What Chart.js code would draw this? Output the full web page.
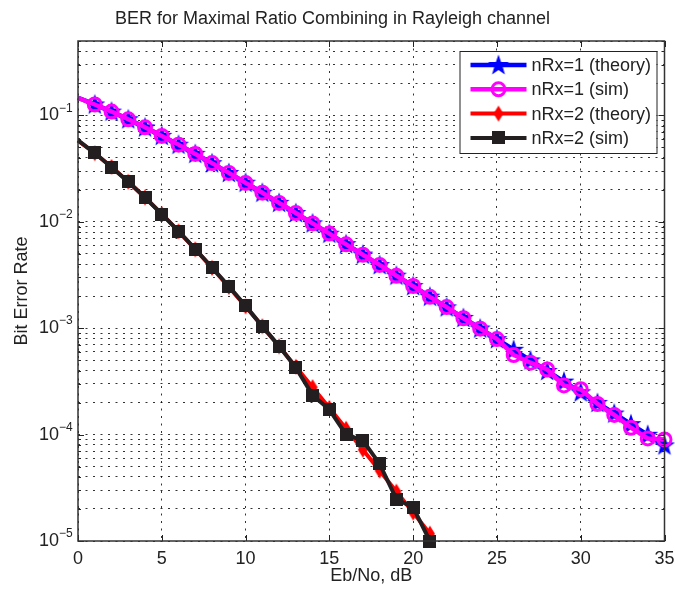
<!DOCTYPE html>
<html>
<head>
<meta charset="utf-8">
<title>BER for Maximal Ratio Combining in Rayleigh channel</title>
<script src="https://cdn.jsdelivr.net/npm/chart.js@4.4.1/dist/chart.umd.min.js"></script>
<style>
html, body { margin: 0; padding: 0; background: #fff; }
canvas { display: block; }
</style>
</head>
<body>
<canvas id="berChart" width="675" height="591"></canvas>
<script>
// Eb/No points, dB
const ebnoRx1 = [0, 1, 2, 3, 4, 5, 6, 7, 8, 9, 10, 11, 12, 13, 14, 15, 16, 17,
    18, 19, 20, 21, 22, 23, 24, 25, 26, 27, 28, 29, 30, 31, 32, 33, 34, 35];
const ebnoRx2 = [0, 1, 2, 3, 4, 5, 6, 7, 8, 9, 10, 11, 12, 13, 14, 15, 16, 17,
    18, 19, 20, 21];

// BER values
const berTheoryRx1 = [0.1464, 0.1267, 0.1085, 0.0919, 0.0771, 0.0642, 0.0530, 0.0435,
    0.0355, 0.0288, 0.0233, 0.01875, 0.01506, 0.01208, 0.00967, 0.00772, 0.00616,
    0.004915, 0.003916, 0.003118, 0.002487, 0.001978, 0.00157, 0.00125, 0.000993,
    0.000789, 0.000627, 0.000498, 0.000396, 0.000315, 0.00025, 0.0001986, 0.0001578,
    0.0001253, 0.0000996, 0.0000791];
const berSimRx1 = [0.1463, 0.1266, 0.1086, 0.0918, 0.0772, 0.0641, 0.0531, 0.0434,
    0.0356, 0.0288, 0.0232, 0.01877, 0.01503, 0.0121, 0.00965, 0.00775, 0.00614,
    0.0049, 0.00393, 0.00311, 0.00249, 0.00197, 0.00158, 0.00124, 0.00099,
    0.00079, 0.00056, 0.000474, 0.000409, 0.00029, 0.000267, 0.000194, 0.000153,
    0.000116, 0.000092, 0.00009];
const berTheoryRx2 = [0.0580, 0.0441, 0.03276, 0.02379, 0.01692, 0.01184, 0.00813,
    0.00551, 0.00369, 0.00244, 0.001603, 0.001042, 0.000674, 0.000434, 0.0002787,
    0.0001779, 0.0001134, 0.0000722, 0.0000459, 0.0000291, 0.00001852, 0.00001172];
const berSimRx2 = [0.0581, 0.0443, 0.0326, 0.0238, 0.0169, 0.0118, 0.00818, 0.00553,
    0.00372, 0.00248, 0.00162, 0.00104, 0.00068, 0.000425, 0.000235, 0.000172,
    0.0001, 0.000088, 0.000053, 0.0000248, 0.0000207, 0.00001];

const seriesNames = ['nRx=1 (theory)', 'nRx=1 (sim)', 'nRx=2 (theory)', 'nRx=2 (sim)'];

// axis ticks
const xTicks = [0, 5, 10, 15, 20, 25, 30, 35];
const yDecades = [-5, -4, -3, -2, -1];
const yMin = 1e-5;
const yMax = 0.5;

const FONT = '"Liberation Sans", Arial, sans-serif';
const TEXT = '#222';

let yTickValues = [];
yDecades.forEach(e => {
    for (let m = 1; m <= 9; m++) {
        const v = m * Math.pow(10, e);
        if (v <= yMax * 1.0001) yTickValues.push(v);
    }
});

function isDecade(v) {
    const l = Math.log10(v);
    return Math.abs(l - Math.round(l)) < 1e-9;
}

// marker images
function makeMarker(w, h, draw) {
    const c = document.createElement('canvas');
    c.width = w;
    c.height = h;
    draw(c.getContext('2d'), w, h);
    return c;
}

const starMarker = makeMarker(24, 24, (g, w, h) => {
    const cx = w / 2, cy = h / 2 + 0.5, ro = 11, ri = 4.4;
    g.beginPath();
    for (let i = 0; i < 10; i++) {
        const r = i % 2 ? ri : ro;
        const a = -Math.PI / 2 + i * Math.PI / 5;
        g.lineTo(cx + r * Math.cos(a), cy + r * Math.sin(a));
    }
    g.closePath();
    g.fillStyle = '#0000ff';
    g.fill();
});

const diamondMarker = makeMarker(12, 18, (g) => {
    g.beginPath();
    g.moveTo(6, 1);
    g.lineTo(11, 9);
    g.lineTo(6, 17);
    g.lineTo(1, 9);
    g.closePath();
    g.fillStyle = '#ff0000';
    g.fill();
});

const squareMarker = makeMarker(13, 13, (g) => {
    g.fillStyle = '#231f20';
    g.fillRect(0, 0, 13, 13);
});

function toPoints(xs, ys) {
    return xs.map((x, i) => ({ x: x, y: ys[i] }));
}

// no marker sits on the left edge in the original
function markerSize(r) {
    return c => (c.parsed && c.parsed.x === 0 ? 0 : r);
}

const datasets = [
    {
        label: seriesNames[0],
        data: toPoints(ebnoRx1, berTheoryRx1),
        borderColor: '#0000ff',
        backgroundColor: '#0000ff',
        borderWidth: 4.5,
        pointStyle: starMarker,
        pointRadius: markerSize(6),
        order: 4
    },
    {
        label: seriesNames[1],
        data: toPoints(ebnoRx1, berSimRx1),
        borderColor: '#ff00ff',
        backgroundColor: 'rgba(0,0,0,0)',
        borderWidth: 4.5,
        pointStyle: 'circle',
        pointRadius: markerSize(6.5),
        pointBorderWidth: 3,
        order: 3
    },
    {
        label: seriesNames[2],
        data: toPoints(ebnoRx2, berTheoryRx2),
        borderColor: '#ff0000',
        backgroundColor: '#ff0000',
        borderWidth: 4,
        pointStyle: diamondMarker,
        pointRadius: markerSize(6),
        order: 2
    },
    {
        label: seriesNames[3],
        data: toPoints(ebnoRx2, berSimRx2),
        borderColor: '#231f20',
        backgroundColor: '#231f20',
        borderWidth: 4,
        pointStyle: squareMarker,
        pointRadius: markerSize(6),
        order: 1
    }
];

// box, inward tick marks and the exponents of the y labels
const framePlugin = {
    id: 'frame',
    afterDraw(chart) {
        const { ctx, chartArea: a, scales: { x, y } } = chart;
        ctx.save();
        ctx.strokeStyle = '#222';
        ctx.lineWidth = 1;
        ctx.beginPath();
        xTicks.forEach(v => {
            const px = Math.round(x.getPixelForValue(v)) + 0.5;
            ctx.moveTo(px, a.bottom);
            ctx.lineTo(px, a.bottom - 6);
            ctx.moveTo(px, a.top);
            ctx.lineTo(px, a.top + 6);
        });
        y.ticks.forEach(t => {
            const py = Math.round(y.getPixelForValue(t.value)) + 0.5;
            const len = isDecade(t.value) ? 6 : 3;
            ctx.moveTo(a.left, py);
            ctx.lineTo(a.left + len, py);
            ctx.moveTo(a.right, py);
            ctx.lineTo(a.right - len, py);
        });
        ctx.stroke();

        ctx.lineWidth = 1.5;
        ctx.strokeStyle = '#333';
        ctx.strokeRect(a.left, a.top, a.right - a.left, a.bottom - a.top);

        ctx.fillStyle = TEXT;
        ctx.font = '12px ' + FONT;
        ctx.textAlign = 'left';
        ctx.textBaseline = 'middle';
        y.ticks.forEach(t => {
            if (!isDecade(t.value)) return;
            const py = y.getPixelForValue(t.value);
            ctx.fillText('\u2212' + Math.abs(Math.round(Math.log10(t.value))), a.left - 19, py - 7);
        });
        ctx.restore();
    }
};

function drawMarker(ctx, i, px, py) {
    const ds = datasets[i];
    if (ds.pointStyle === 'circle') {
        ctx.beginPath();
        ctx.arc(px, py, 6.5, 0, Math.PI * 2);
        ctx.lineWidth = ds.pointBorderWidth;
        ctx.strokeStyle = ds.borderColor;
        ctx.stroke();
    } else {
        const img = ds.pointStyle;
        ctx.drawImage(img, px - img.width / 2, py - img.height / 2);
    }
}

// legend box inside the axes, top right
const boxLegendPlugin = {
    id: 'boxLegend',
    afterDraw(chart) {
        const { ctx, chartArea: a } = chart;
        const w = 197, h = 102;
        const bx = a.right - 8 - w, by = a.top + 10;
        ctx.save();
        ctx.fillStyle = '#fff';
        ctx.fillRect(bx, by, w, h);
        ctx.lineWidth = 1;
        ctx.strokeStyle = '#222';
        ctx.strokeRect(bx + 0.5, by + 0.5, w, h);

        ctx.font = '18px ' + FONT;
        ctx.textBaseline = 'middle';
        ctx.textAlign = 'left';
        datasets.forEach((ds, i) => {
            const ry = by + 14 + i * 24.3;
            ctx.beginPath();
            ctx.moveTo(bx + 11, ry);
            ctx.lineTo(bx + 67, ry);
            ctx.lineWidth = ds.borderWidth;
            ctx.strokeStyle = ds.borderColor;
            ctx.stroke();
            drawMarker(ctx, i, bx + 39, ry);
            ctx.fillStyle = TEXT;
            ctx.fillText(ds.label, bx + 72, ry + 1);
        });
        ctx.restore();
    }
};

const berChart = new Chart(document.getElementById('berChart'), {
    type: 'line',
    data: { datasets: datasets },
    options: {
        responsive: false,
        animation: false,
        events: [],
        clip: false,
        layout: { padding: { top: 0, right: 10, bottom: 0, left: 0 } },
        elements: { line: { tension: 0 } },
        plugins: {
            legend: { display: false },
            tooltip: { enabled: false },
            title: {
                display: true,
                text: 'BER for Maximal Ratio Combining in Rayleigh channel',
                color: TEXT,
                font: { family: FONT, size: 18, weight: 'normal', lineHeight: 1.2 },
                padding: { top: 8.2, bottom: 11.2 }
            }
        },
        scales: {
            x: {
                type: 'linear',
                min: 0,
                max: 35,
                afterFit(scale) {
                    scale.height = 50;
                    scale.paddingLeft = 0;
                    scale.paddingRight = 0;
                },
                afterBuildTicks(scale) {
                    scale.ticks = xTicks.map(v => ({ value: v }));
                },
                ticks: {
                    autoSkip: false,
                    maxRotation: 0,
                    padding: 7,
                    color: TEXT,
                    font: { family: FONT, size: 18 }
                },
                grid: {
                    drawTicks: false,
                    color: 'rgba(0,0,0,0.8)',
                    lineWidth: 1
                },
                border: { display: false, dash: [2, 5.5] },
                title: {
                    display: true,
                    text: 'Eb/No, dB',
                    color: TEXT,
                    font: { family: FONT, size: 18, lineHeight: 1.2 },
                    padding: { top: 0, bottom: 4.2 }
                }
            },
            y: {
                type: 'logarithmic',
                min: yMin,
                max: yMax,
                afterFit(scale) {
                    scale.width = 78;
                    scale.paddingTop = 0;
                    scale.paddingBottom = 0;
                },
                afterBuildTicks(scale) {
                    scale.ticks = yTickValues.map(v => ({ value: v }));
                },
                ticks: {
                    autoSkip: false,
                    padding: 19,
                    color: TEXT,
                    font: { family: FONT, size: 18 },
                    callback: v => (isDecade(v) ? '10' : '')
                },
                grid: {
                    drawTicks: false,
                    color: 'rgba(0,0,0,0.8)',
                    lineWidth: 1
                },
                border: { display: false, dash: [2, 5.5] },
                title: {
                    display: true,
                    text: 'Bit Error Rate',
                    color: TEXT,
                    font: { family: FONT, size: 18, lineHeight: 1.2 },
                    padding: { top: 11.2, bottom: 0 }
                }
            }
        }
    },
    plugins: [framePlugin, boxLegendPlugin]
});
</script>
</body>
</html>
